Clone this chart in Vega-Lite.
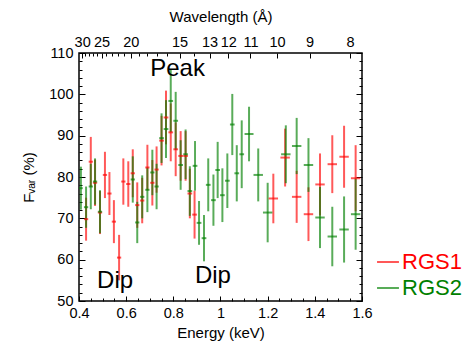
{
  "$schema": "https://vega.github.io/schema/vega-lite/v6.json",
  "width": 283,
  "height": 248,
  "autosize": "none",
  "padding": {"left": 79, "top": 53, "right": 107, "bottom": 46},
  "background": "white",
  "config": {
    "font": "Liberation Sans",
    "view": {"stroke": "black", "strokeWidth": 1.5},
    "axis": {"labelFont": "Liberation Sans", "titleFont": "Liberation Sans", "labelFontSize": 14.5, "titleFontSize": 15, "titleFontWeight": "normal", "labelColor": "black", "titleColor": "black", "domainColor": "black", "tickColor": "black", "grid": false, "domain": false}
  },
  "datasets": {
    "pts": [
      {"inst": "RGS1", "E": 0.430, "Elo": 0.421, "Ehi": 0.439, "F": 69.8, "Flo": 64.6, "Fhi": 75.0},
      {"inst": "RGS1", "E": 0.450, "Elo": 0.441, "Ehi": 0.459, "F": 83.7, "Flo": 77.7, "Fhi": 89.7},
      {"inst": "RGS1", "E": 0.468, "Elo": 0.459, "Ehi": 0.477, "F": 78.6, "Flo": 73.0, "Fhi": 84.2},
      {"inst": "RGS1", "E": 0.489, "Elo": 0.480, "Ehi": 0.498, "F": 71.4, "Flo": 66.2, "Fhi": 76.6},
      {"inst": "RGS1", "E": 0.510, "Elo": 0.501, "Ehi": 0.519, "F": 80.5, "Flo": 74.9, "Fhi": 86.1},
      {"inst": "RGS1", "E": 0.529, "Elo": 0.520, "Ehi": 0.538, "F": 76.0, "Flo": 70.8, "Fhi": 81.2},
      {"inst": "RGS1", "E": 0.548, "Elo": 0.539, "Ehi": 0.557, "F": 69.2, "Flo": 64.0, "Fhi": 74.4},
      {"inst": "RGS1", "E": 0.570, "Elo": 0.561, "Ehi": 0.579, "F": 60.5, "Flo": 55.0, "Fhi": 66.0},
      {"inst": "RGS1", "E": 0.588, "Elo": 0.579, "Ehi": 0.597, "F": 78.9, "Flo": 73.3, "Fhi": 84.5},
      {"inst": "RGS1", "E": 0.609, "Elo": 0.600, "Ehi": 0.618, "F": 78.3, "Flo": 72.8, "Fhi": 83.8},
      {"inst": "RGS1", "E": 0.628, "Elo": 0.619, "Ehi": 0.637, "F": 80.9, "Flo": 75.1, "Fhi": 86.7},
      {"inst": "RGS1", "E": 0.647, "Elo": 0.638, "Ehi": 0.656, "F": 73.2, "Flo": 67.7, "Fhi": 78.7},
      {"inst": "RGS1", "E": 0.668, "Elo": 0.659, "Ehi": 0.677, "F": 74.3, "Flo": 68.8, "Fhi": 79.8},
      {"inst": "RGS1", "E": 0.690, "Elo": 0.681, "Ehi": 0.699, "F": 82.3, "Flo": 76.8, "Fhi": 87.8},
      {"inst": "RGS1", "E": 0.711, "Elo": 0.702, "Ehi": 0.720, "F": 78.6, "Flo": 73.1, "Fhi": 84.1},
      {"inst": "RGS1", "E": 0.729, "Elo": 0.720, "Ehi": 0.738, "F": 81.8, "Flo": 76.2, "Fhi": 87.4},
      {"inst": "RGS1", "E": 0.750, "Elo": 0.740, "Ehi": 0.760, "F": 88.8, "Flo": 82.8, "Fhi": 94.8},
      {"inst": "RGS1", "E": 0.769, "Elo": 0.759, "Ehi": 0.779, "F": 94.4, "Flo": 87.9, "Fhi": 100.9},
      {"inst": "RGS1", "E": 0.789, "Elo": 0.779, "Ehi": 0.799, "F": 90.8, "Flo": 83.8, "Fhi": 97.8},
      {"inst": "RGS1", "E": 0.810, "Elo": 0.800, "Ehi": 0.820, "F": 86.7, "Flo": 80.2, "Fhi": 93.2},
      {"inst": "RGS1", "E": 0.831, "Elo": 0.821, "Ehi": 0.841, "F": 85.1, "Flo": 79.1, "Fhi": 91.1},
      {"inst": "RGS1", "E": 0.852, "Elo": 0.842, "Ehi": 0.862, "F": 85.1, "Flo": 79.1, "Fhi": 91.1},
      {"inst": "RGS1", "E": 0.870, "Elo": 0.860, "Ehi": 0.880, "F": 76.0, "Flo": 70.0, "Fhi": 82.0},
      {"inst": "RGS1", "E": 0.890, "Elo": 0.880, "Ehi": 0.900, "F": 70.9, "Flo": 65.1, "Fhi": 76.7},
      {"inst": "RGS1", "E": 1.224, "Elo": 1.204, "Ehi": 1.244, "F": 74.8, "Flo": 68.8, "Fhi": 80.8},
      {"inst": "RGS1", "E": 1.274, "Elo": 1.254, "Ehi": 1.294, "F": 84.7, "Flo": 77.7, "Fhi": 91.7},
      {"inst": "RGS1", "E": 1.323, "Elo": 1.303, "Ehi": 1.343, "F": 75.2, "Flo": 68.9, "Fhi": 81.5},
      {"inst": "RGS1", "E": 1.373, "Elo": 1.353, "Ehi": 1.393, "F": 71.0, "Flo": 64.5, "Fhi": 77.5},
      {"inst": "RGS1", "E": 1.422, "Elo": 1.402, "Ehi": 1.442, "F": 78.2, "Flo": 70.7, "Fhi": 85.7},
      {"inst": "RGS1", "E": 1.474, "Elo": 1.454, "Ehi": 1.494, "F": 83.1, "Flo": 76.1, "Fhi": 90.1},
      {"inst": "RGS1", "E": 1.524, "Elo": 1.504, "Ehi": 1.544, "F": 84.9, "Flo": 77.4, "Fhi": 92.4},
      {"inst": "RGS1", "E": 1.573, "Elo": 1.553, "Ehi": 1.593, "F": 79.7, "Flo": 71.7, "Fhi": 87.7},
      {"inst": "RGS2", "E": 0.408, "Elo": 0.400, "Ehi": 0.416, "F": 77.3, "Flo": 72.1, "Fhi": 82.5},
      {"inst": "RGS2", "E": 0.430, "Elo": 0.421, "Ehi": 0.439, "F": 72.7, "Flo": 67.7, "Fhi": 77.7},
      {"inst": "RGS2", "E": 0.450, "Elo": 0.441, "Ehi": 0.459, "F": 77.7, "Flo": 72.2, "Fhi": 83.2},
      {"inst": "RGS2", "E": 0.468, "Elo": 0.459, "Ehi": 0.477, "F": 78.9, "Flo": 73.3, "Fhi": 84.5},
      {"inst": "RGS2", "E": 0.489, "Elo": 0.480, "Ehi": 0.498, "F": 71.6, "Flo": 66.4, "Fhi": 76.8},
      {"inst": "RGS2", "E": 0.628, "Elo": 0.619, "Ehi": 0.637, "F": 79.4, "Flo": 73.8, "Fhi": 85.0},
      {"inst": "RGS2", "E": 0.647, "Elo": 0.638, "Ehi": 0.656, "F": 69.0, "Flo": 64.0, "Fhi": 74.0},
      {"inst": "RGS2", "E": 0.668, "Elo": 0.659, "Ehi": 0.677, "F": 75.2, "Flo": 70.0, "Fhi": 80.4},
      {"inst": "RGS2", "E": 0.690, "Elo": 0.681, "Ehi": 0.699, "F": 76.9, "Flo": 71.5, "Fhi": 82.3},
      {"inst": "RGS2", "E": 0.711, "Elo": 0.702, "Ehi": 0.720, "F": 81.1, "Flo": 75.6, "Fhi": 86.6},
      {"inst": "RGS2", "E": 0.729, "Elo": 0.720, "Ehi": 0.738, "F": 77.7, "Flo": 72.2, "Fhi": 83.2},
      {"inst": "RGS2", "E": 0.750, "Elo": 0.740, "Ehi": 0.760, "F": 89.4, "Flo": 83.4, "Fhi": 95.4},
      {"inst": "RGS2", "E": 0.769, "Elo": 0.759, "Ehi": 0.779, "F": 91.6, "Flo": 84.6, "Fhi": 98.6},
      {"inst": "RGS2", "E": 0.789, "Elo": 0.779, "Ehi": 0.799, "F": 98.4, "Flo": 90.9, "Fhi": 105.9},
      {"inst": "RGS2", "E": 0.810, "Elo": 0.800, "Ehi": 0.820, "F": 93.6, "Flo": 86.6, "Fhi": 100.6},
      {"inst": "RGS2", "E": 0.831, "Elo": 0.821, "Ehi": 0.841, "F": 82.9, "Flo": 76.9, "Fhi": 88.9},
      {"inst": "RGS2", "E": 0.852, "Elo": 0.842, "Ehi": 0.862, "F": 85.5, "Flo": 79.5, "Fhi": 91.5},
      {"inst": "RGS2", "E": 0.870, "Elo": 0.860, "Ehi": 0.880, "F": 76.6, "Flo": 70.6, "Fhi": 82.6},
      {"inst": "RGS2", "E": 0.892, "Elo": 0.882, "Ehi": 0.902, "F": 82.7, "Flo": 76.7, "Fhi": 88.7},
      {"inst": "RGS2", "E": 0.909, "Elo": 0.899, "Ehi": 0.919, "F": 68.9, "Flo": 63.6, "Fhi": 74.2},
      {"inst": "RGS2", "E": 0.930, "Elo": 0.920, "Ehi": 0.940, "F": 65.2, "Flo": 59.6, "Fhi": 70.8},
      {"inst": "RGS2", "E": 0.948, "Elo": 0.938, "Ehi": 0.958, "F": 78.1, "Flo": 71.7, "Fhi": 84.5},
      {"inst": "RGS2", "E": 0.970, "Elo": 0.960, "Ehi": 0.980, "F": 74.4, "Flo": 68.2, "Fhi": 80.6},
      {"inst": "RGS2", "E": 0.988, "Elo": 0.978, "Ehi": 0.998, "F": 81.7, "Flo": 74.9, "Fhi": 88.5},
      {"inst": "RGS2", "E": 1.008, "Elo": 0.998, "Ehi": 1.018, "F": 75.6, "Flo": 69.1, "Fhi": 82.1},
      {"inst": "RGS2", "E": 1.029, "Elo": 1.019, "Ehi": 1.039, "F": 79.1, "Flo": 72.5, "Fhi": 85.7},
      {"inst": "RGS2", "E": 1.050, "Elo": 1.040, "Ehi": 1.060, "F": 92.7, "Flo": 85.3, "Fhi": 100.1},
      {"inst": "RGS2", "E": 1.069, "Elo": 1.059, "Ehi": 1.079, "F": 80.9, "Flo": 74.1, "Fhi": 87.7},
      {"inst": "RGS2", "E": 1.090, "Elo": 1.080, "Ehi": 1.100, "F": 85.5, "Flo": 77.3, "Fhi": 93.7},
      {"inst": "RGS2", "E": 1.121, "Elo": 1.102, "Ehi": 1.140, "F": 90.4, "Flo": 83.8, "Fhi": 97.0},
      {"inst": "RGS2", "E": 1.160, "Elo": 1.140, "Ehi": 1.180, "F": 80.5, "Flo": 74.1, "Fhi": 86.9},
      {"inst": "RGS2", "E": 1.200, "Elo": 1.180, "Ehi": 1.220, "F": 71.4, "Flo": 64.2, "Fhi": 78.6},
      {"inst": "RGS2", "E": 1.277, "Elo": 1.257, "Ehi": 1.297, "F": 85.5, "Flo": 78.5, "Fhi": 92.5},
      {"inst": "RGS2", "E": 1.323, "Elo": 1.303, "Ehi": 1.343, "F": 87.5, "Flo": 80.7, "Fhi": 94.3},
      {"inst": "RGS2", "E": 1.373, "Elo": 1.353, "Ehi": 1.393, "F": 82.9, "Flo": 76.4, "Fhi": 89.4},
      {"inst": "RGS2", "E": 1.422, "Elo": 1.402, "Ehi": 1.442, "F": 70.2, "Flo": 62.8, "Fhi": 77.6},
      {"inst": "RGS2", "E": 1.474, "Elo": 1.454, "Ehi": 1.494, "F": 65.6, "Flo": 58.4, "Fhi": 72.8},
      {"inst": "RGS2", "E": 1.524, "Elo": 1.504, "Ehi": 1.544, "F": 67.3, "Flo": 59.3, "Fhi": 75.3},
      {"inst": "RGS2", "E": 1.573, "Elo": 1.553, "Ehi": 1.593, "F": 71.0, "Flo": 62.4, "Fhi": 79.6}
    ],
    "notes": [
      {"label": "Peak", "E": 0.818, "F": 106.1},
      {"label": "Dip", "E": 0.553, "F": 54.8},
      {"label": "Dip", "E": 0.968, "F": 56.0}
    ]
  },
  "layer": [
    {
      "data": {"name": "pts"},
      "mark": {"type": "rule", "strokeWidth": 2, "opacity": 0.65},
      "encoding": {
        "x": {"field": "E", "type": "quantitative", "scale": {"domain": [0.4, 1.6], "nice": false, "zero": false},
          "title": "Energy (keV)",
          "axis": {"orient": "bottom", "values": [0.4,0.45,0.5,0.55,0.6,0.65,0.7,0.75,0.8,0.85,0.9,0.95,1.0,1.05,1.1,1.15,1.2,1.25,1.3,1.35,1.4,1.45,1.5,1.55,1.6],
            "labelExpr": "abs(datum.value*5 - round(datum.value*5)) < 0.001 ? (datum.value == 1 ? '1' : format(datum.value, '.1f')) : ''",
            "tickSize": {"condition": {"test": "abs(datum.value*5 - round(datum.value*5)) < 0.001", "value": -5}, "value": -3},
            "labelPadding": 10, "titlePadding": 6, "labelFlush": false}},
        "y": {"field": "Flo", "type": "quantitative", "scale": {"domain": [50, 110], "nice": false, "zero": false},
          "title": "Fᵥₐᵣ (%)",
          "axis": {"orient": "left", "values": [50,52,54,56,58,60,62,64,66,68,70,72,74,76,78,80,82,84,86,88,90,92,94,96,98,100,102,104,106,108,110],
            "labelExpr": "datum.value % 10 == 0 ? datum.label : ''",
            "tickSize": {"condition": {"test": "datum.value % 10 == 0", "value": -6}, "value": -3},
            "labelPadding": 12, "titlePadding": 12}},
        "y2": {"field": "Fhi"},
        "color": {"field": "inst", "type": "nominal", "scale": {"domain": ["RGS1", "RGS2"], "range": ["#ff0000", "#008000"]},
          "legend": {"orient": "none", "legendX": 297, "legendY": 197, "title": null, "symbolType": "stroke", "symbolSize": 480, "symbolStrokeWidth": 2, "symbolOpacity": 1, "labelFontSize": 22, "labelFont": "Liberation Sans", "labelOffset": 2, "rowPadding": 3, "labelColor": {"expr": "datum.label == 'RGS1' ? '#ff0000' : '#008000'"}}}
      }
    },
    {
      "data": {"name": "pts"},
      "mark": {"type": "rule", "strokeWidth": 2, "opacity": 0.65},
      "encoding": {
        "x": {"field": "Elo", "type": "quantitative",
          "title": "Wavelength (Å)",
          "axis": {"orient": "top", "values": [0.41327,0.42752,0.44279,0.45919,0.47685,0.49592,0.51658,0.53904,0.56355,0.59038,0.6199,0.65253,0.68878,0.72929,0.77488,0.82653,0.88557,0.95369,1.03317,1.12709,1.2398,1.37756,1.54975],
            "labelExpr": "indexof([30,25,20,15,13,12,11,10,9,8], round(12.398/datum.value)) >= 0 ? format(round(12.398/datum.value), 'd') : ''",
            "tickSize": {"condition": {"test": "indexof([30,25,20,15,13,12,11,10,9,8], round(12.398/datum.value)) >= 0", "value": -5}, "value": -3},
            "labelPadding": 9, "titlePadding": 8, "labelFlush": false, "labelOverlap": false}},
        "x2": {"field": "Ehi"},
        "y": {"field": "F", "type": "quantitative",
          "axis": {"orient": "right", "values": [50,52,54,56,58,60,62,64,66,68,70,72,74,76,78,80,82,84,86,88,90,92,94,96,98,100,102,104,106,108,110],
            "labels": false, "title": null,
            "tickSize": {"condition": {"test": "datum.value % 10 == 0", "value": -6}, "value": -3}}},
        "color": {"field": "inst", "type": "nominal"}
      }
    },
    {
      "data": {"name": "notes"},
      "mark": {"type": "text", "fontSize": 24, "font": "Liberation Sans", "color": "black"},
      "encoding": {
        "x": {"field": "E", "type": "quantitative", "axis": null},
        "y": {"field": "F", "type": "quantitative", "axis": null},
        "text": {"field": "label"}
      }
    }
  ],
  "resolve": {"axis": {"x": "independent", "y": "independent"}}
}
